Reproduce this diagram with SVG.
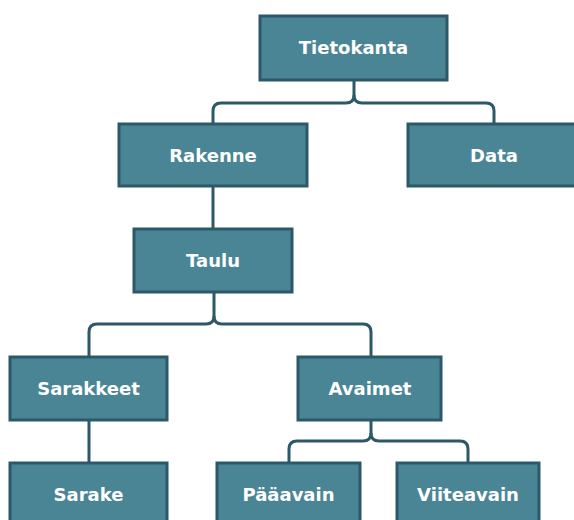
<svg xmlns="http://www.w3.org/2000/svg" width="574" height="520" viewBox="0 0 574 520">
<style>
.box{fill:#4a8596;stroke:#2c5868;stroke-width:3}
.lbl{font-family:"DejaVu Sans",Verdana,sans-serif;font-weight:bold;font-size:18px;fill:#ffffff;text-anchor:middle}
.con{fill:none;stroke:#2c5868;stroke-width:3}
</style>
<rect width="574" height="520" fill="#ffffff"/>
<g id="connectors">
<path class="con" d="M354 80 V95 Q354 103 346 103 H221 Q213 103 213 111 V124"/>
<path class="con" d="M354 95 Q354 103 362 103 H486 Q494 103 494 111 V124"/>
<path class="con" d="M213 186 V229"/>
<path class="con" d="M214 292 V316 Q214 324 206 324 H97 Q89 324 89 332 V357"/>
<path class="con" d="M214 316 Q214 324 222 324 H363 Q371 324 371 332 V357"/>
<path class="con" d="M89 420 V463"/>
<path class="con" d="M371 420 V433 Q371 441 363 441 H297 Q289 441 289 449 V463"/>
<path class="con" d="M371 433 Q371 441 379 441 H460 Q468 441 468 449 V463"/>
</g>
<g id="tietokanta"><rect class="box" x="260" y="16" width="187" height="64"/><text class="lbl" x="353.5" y="54">Tietokanta</text></g>
<g id="rakenne"><rect class="box" x="119" y="124" width="188" height="62"/><text class="lbl" x="213" y="161.5">Rakenne</text></g>
<g id="data"><rect class="box" x="408" y="124" width="172" height="62"/><text class="lbl" x="494" y="161.5">Data</text></g>
<g id="taulu"><rect class="box" x="134" y="229" width="158" height="63"/><text class="lbl" x="213" y="267">Taulu</text></g>
<g id="sarakkeet"><rect class="box" x="10" y="357" width="157" height="63"/><text class="lbl" x="88.5" y="395">Sarakkeet</text></g>
<g id="avaimet"><rect class="box" x="298" y="357" width="143" height="63"/><text class="lbl" x="370" y="395">Avaimet</text></g>
<g id="sarake"><rect class="box" x="10" y="463" width="157" height="64"/><text class="lbl" x="88.5" y="501">Sarake</text></g>
<g id="paaavain"><rect class="box" x="217" y="463" width="143" height="64"/><text class="lbl" x="288.5" y="501">Pääavain</text></g>
<g id="viiteavain"><rect class="box" x="397" y="463" width="142" height="64"/><text class="lbl" x="468" y="501">Viiteavain</text></g>
</svg>
